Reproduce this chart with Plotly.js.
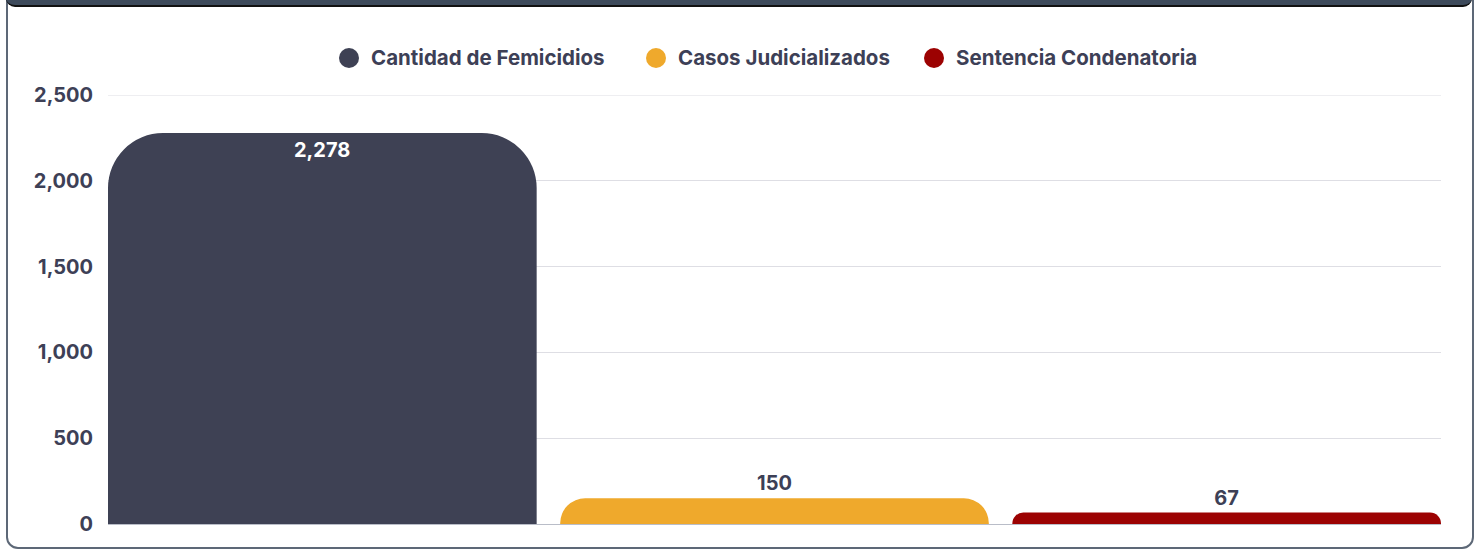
<!DOCTYPE html>
<html>
<head>
<meta charset="utf-8">
<script src="https://cdn.plot.ly/plotly-3.0.1.min.js"></script>
<style>
  html, body { margin:0; padding:0; width:1480px; height:549px; overflow:hidden; background:#ffffff; }
  #card { position:absolute; left:6px; top:-20px; width:1464px; height:565px; border:2px solid #5d6877; border-radius:12px; box-sizing:content-box; }
  #header { position:absolute; left:6px; top:-20px; width:1466px; height:25px; background:#3d4a5b; border-bottom:2px solid #111; border-radius:0 0 9px 9px; }
  #chart { position:absolute; left:0; top:0; width:1480px; height:549px; }
</style>
</head>
<body>
<div id="card"></div>
<div id="header"></div>
<div id="chart"></div>
<script>
const categories = ["Cantidad de Femicidios", "Casos Judicializados", "Sentencia Condenatoria"];
const values = [2278, 150, 67];
const colors = ["#3e4154", "#efa92c", "#9c0202"];
const yTicks = [0, 500, 1000, 1500, 2000, 2500];

const fontFam = "Inter, 'Noto Sans', sans-serif";
const textDark = "#3d4056";
const gridColor = "#dedee4";

const W = 1480, H = 549;
const M = { l: 108, r: 39, t: 95, b: 25 };
const pw = W - M.l - M.r, ph = H - M.t - M.b;
const px2x = p => (p - M.l) / pw;
const py2y = p => (H - M.b - p) / ph;

const traces = categories.map((c, i) => ({
  type: "bar",
  x: [c],
  y: [values[i]],
  name: c,
  marker: { color: colors[i] },
  showlegend: false,
  texttemplate: i === 0 ? "" : "%{y:,}",
  textposition: i === 0 ? "none" : "outside",
  textfont: { family: fontFam, size: 20, color: textDark, weight: 700 },
  cliponaxis: false,
  hoverinfo: "x+y"
}));

// manual legend (circle markers + real text)
const legendCx = [349, 656, 934];
const legendY = 58;
const shapes = categories.map((c, i) => ({
  type: "circle", xref: "paper", yref: "paper",
  xsizemode: "pixel", ysizemode: "pixel",
  xanchor: px2x(legendCx[i]), yanchor: py2y(legendY),
  x0: -10, x1: 10, y0: -10, y1: 10,
  fillcolor: colors[i], line: { width: 0 }
}));
// top gridline (Plotly hides the gridline on the range edge)
shapes.push({
  type: "line", xref: "paper", yref: "y", layer: "below",
  x0: 0, x1: 1, y0: yTicks[yTicks.length - 1], y1: yTicks[yTicks.length - 1],
  line: { color: gridColor, width: 1 }
});
const annotations = categories.map((c, i) => ({
  xref: "paper", yref: "paper",
  x: px2x(legendCx[i] + 20), y: py2y(legendY),
  xanchor: "left", yanchor: "middle",
  text: c, showarrow: false,
  font: { family: fontFam, size: 20.5, color: textDark, weight: 700 }
}));
// value label inside the tallest bar, at its top
annotations.push({
  xref: "x", yref: "y",
  x: categories[0], y: values[0],
  xanchor: "center", yanchor: "top", yshift: -3,
  text: values[0].toLocaleString("en-US"), showarrow: false,
  font: { family: fontFam, size: 20, color: "#ffffff", weight: 700 }
});

const layout = {
  width: W, height: H,
  margin: M,
  paper_bgcolor: "rgba(0,0,0,0)",
  plot_bgcolor: "rgba(0,0,0,0)",
  barmode: "overlay",
  bargap: 0.052,
  barcornerradius: 55,
  font: { family: fontFam, color: textDark, size: 20 },
  showlegend: false,
  shapes: shapes,
  annotations: annotations,
  xaxis: {
    type: "category",
    showticklabels: false,
    showgrid: false,
    zeroline: false,
    showline: true, linecolor: "#b9bdc8", linewidth: 1,
    range: [-0.474, 2.474],
    fixedrange: true
  },
  yaxis: {
    range: [0, 2500],
    tickvals: yTicks,
    tickformat: ",",
    showgrid: true, gridcolor: gridColor, gridwidth: 1,
    zeroline: false,
    showline: false,
    ticks: "", ticklabelstandoff: 14,
    tickfont: { family: fontFam, size: 20, color: textDark, weight: 700 },
    fixedrange: true
  }
};

Plotly.newPlot("chart", traces, layout, { displayModeBar: false, responsive: false });
</script>
</body>
</html>
